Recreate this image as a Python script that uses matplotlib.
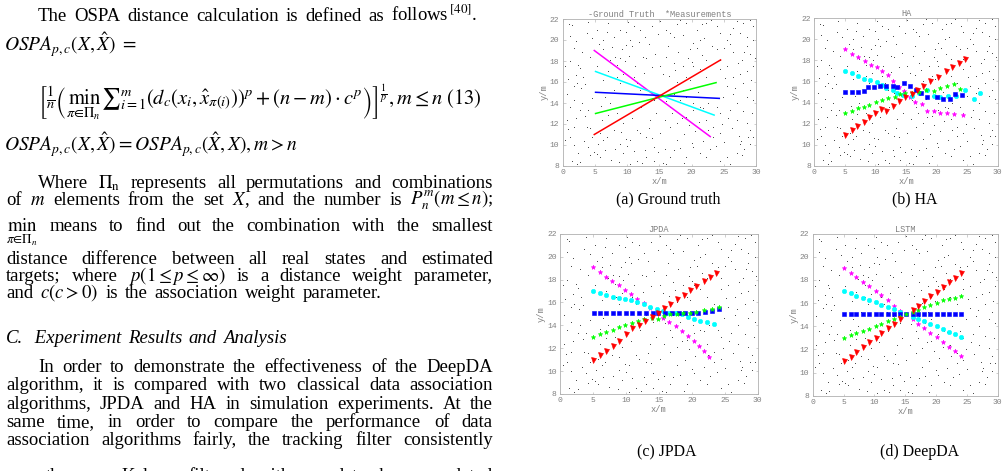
import matplotlib
matplotlib.use("Agg")
import matplotlib.pyplot as plt

plt.rcParams['mathtext.fontset'] = 'stix'

W, H = 1008, 471
fig = plt.figure(figsize=(W / 100, H / 100), dpi=100)
renderer = fig.canvas.get_renderer()

# ---------------- data ----------------
clutter_x = [1.0, 1.4, 1.1, 1.7, 0.4, 1.1, 2.4, 2.7, 2.2, 2.9, 1.7, 2.7, 3.5, 3.7, 4.2, 4.0, 1.1, 1.7, 2.4, 1.4,
             2.2, 2.7, 4.2, 5.3, 5.8, 5.5, 4.0, 4.8, 5.8, 6.1, 6.3, 6.6, 7.3, 8.1, 8.4, 8.9, 9.2, 9.9, 10.5, 9.9,
             10.7, 11.2, 12.5, 13.0, 12.8, 13.8, 15.1, 16.1, 16.7, 17.2, 17.7, 18.2, 19.2, 19.8, 20.3, 20.8, 21.6, 22.3, 23.1, 23.9,
             25.5, 26.5, 27.5, 28.6, 29.6, 29.1, 27.5, 28.6, 28.0, 29.1, 29.6, 26.5, 27.0, 25.5, 24.9, 24.4, 26.0, 27.0, 28.6, 29.1,
             29.6, 29.1, 27.5, 27.0, 25.5, 26.0, 24.4, 22.3, 21.3, 19.2, 20.3, 18.2, 17.7, 16.7, 16.1, 14.1, 13.0, 11.5, 10.5, 9.4,
             8.9, 10.5, 12.0, 13.0, 14.1, 15.1, 16.7, 17.7, 19.2, 20.3, 21.3, 22.3, 23.4, 24.4, 23.4, 18.7, 19.2, 18.2, 17.2, 16.7,
             14.1, 13.0, 12.0, 11.5, 11.0, 9.4, 8.9, 7.9, 7.3, 8.4, 9.4, 7.9, 6.8, 6.3, 15.1, 15.6, 16.1, 17.2, 18.7, 19.2,
             20.3, 21.3, 22.3, 23.4, 24.4, 25.5, 26.5, 24.4, 22.3, 21.3, 24.4, 26.5, 28.0, 29.6, 3.7, 5.3, 6.3, 6.8, 7.9, 8.9,
             11.0, 12.0, 6.3, 4.2, 5.3, 3.2, 1.7, 0.6, 1.1, 0.6, 1.7, 0.4, 29.6, 29.3, 27.8, 28.6, 27.3, 27.6, 28.2, 27.9,
             28.8, 16.0, 14.5, 13.6, 12.2, 17.8, 19.8, 21.0, 22.6, 20.5, 18.9, 15.8, 12.8, 10.0, 8.1, 7.0,
             2.0, 3.0, 3.9, 4.6, 5.6, 7.0, 7.6, 9.6, 10.2, 11.8, 13.4, 14.3, 14.8, 16.4, 17.9, 18.6, 19.5, 20.9, 22.0, 23.0,
             24.0, 25.0, 26.0, 27.0, 28.2, 29.0, 0.8, 2.0, 3.5, 4.5, 3.0, 2.0, 0.9, 3.3, 4.6, 6.5, 7.5, 8.8, 9.8, 11.0,
             12.3, 13.8, 14.8, 15.5, 17.2, 18.8, 20.0, 21.8, 22.8, 23.8, 25.0, 26.2, 25.6, 24.8, 28.0, 29.4, 26.8, 28.6, 25.2, 27.2,
             29.8, 26.0, 21.6, 20.0, 17.5, 16.5, 13.8, 12.6, 10.3, 8.5, 7.0, 6.0, 9.0, 10.8, 11.6, 13.4, 15.8, 17.0, 18.5, 19.6,
             21.2, 22.5, 23.9, 21.8, 20.2]
clutter_y = [21.5, 21.4, 20.4, 19.2, 17.5, 18.0, 17.6, 17.3, 15.9, 15.4, 14.3, 13.3, 12.8, 11.7, 11.6, 13.3, 10.8, 10.0, 9.2, 8.5,
             8.2, 8.4, 9.0, 9.1, 8.9, 10.1, 9.8, 9.3, 11.1, 12.4, 16.2, 14.6, 18.1, 18.4, 17.6, 18.3, 19.1, 20.8, 20.0, 19.5,
             19.4, 17.5, 18.4, 18.3, 20.3, 21.3, 21.8, 21.0, 20.7, 20.3, 21.5, 21.9, 21.6, 19.1, 19.7, 19.2, 21.5, 21.6, 19.4, 19.1,
             20.0, 18.9, 20.7, 20.3, 20.0, 18.7, 16.8, 17.0, 15.9, 15.2, 14.3, 14.9, 14.0, 15.6, 14.6, 13.0, 13.3, 12.4, 12.1, 11.4,
             10.8, 10.1, 10.1, 9.2, 8.9, 8.2, 8.5, 8.9, 9.2, 8.9, 9.8, 9.7, 10.5, 8.9, 8.2, 8.5, 8.9, 8.5, 8.2, 9.2,
             10.1, 10.5, 11.1, 10.8, 9.8, 11.1, 11.7, 12.1, 12.7, 13.3, 13.6, 12.4, 11.7, 11.1, 10.8, 15.2, 14.6, 14.3, 14.9, 13.6,
             14.3, 14.9, 15.2, 15.9, 16.5, 16.8, 15.9, 15.2, 14.0, 13.0, 12.1, 11.4, 10.8, 10.5, 17.5, 16.8, 18.4, 17.8, 17.5, 16.5,
             17.5, 17.2, 16.5, 15.9, 17.2, 17.5, 16.5, 18.1, 18.1, 20.0, 20.7, 21.1, 21.6, 21.3, 20.7, 21.0, 20.0, 20.8, 20.3, 21.0,
             21.3, 21.0, 19.1, 18.4, 17.5, 16.5, 15.6, 14.9, 13.6, 12.4, 11.7, 10.5, 17.5, 16.2, 18.1, 19.4, 10.9, 10.4, 9.6, 9.0,
             10.8, 14.2, 13.0, 12.4, 13.6, 16.0, 16.2, 15.0, 14.0, 11.3, 11.0, 9.6, 9.5, 9.9, 9.6, 12.9,
             19.9, 18.9, 21.7, 20.2, 19.6, 21.6, 19.3, 18.0, 21.7, 19.8, 19.6, 18.7, 20.6, 19.4, 18.9, 20.5, 18.3, 21.0, 20.2, 21.9,
             21.3, 19.2, 20.6, 21.8, 18.9, 21.9, 16.3, 16.7, 15.8, 14.5, 14.0, 12.6, 11.5, 10.4, 10.8, 9.5, 8.6, 8.4, 10.6, 9.4,
             8.3, 10.7, 9.3, 8.3, 9.5, 8.3, 10.2, 10.4, 9.6, 9.9, 10.3, 11.6, 12.6, 12.0, 13.2, 13.0, 15.4, 14.6, 16.4, 17.8,
             18.3, 19.6, 18.6, 17.9, 17.1, 16.6, 17.4, 16.9, 18.5, 16.5, 17.0, 13.7, 11.2, 12.6, 11.4, 11.6, 12.4, 13.0, 12.6, 11.9,
             12.2, 11.4, 13.6, 13.5, 14.0]

# (a) ground truth straight tracks: start / end points
gt_x = {'m': [4.9, 22.9], 'c': [5.1, 23.5], 'b': [5.1, 24.3], 'g': [5.1, 23.8], 'r': [4.9, 24.5]}
gt_y = {'m': [19.0, 10.8], 'c': [17.0, 12.85], 'b': [15.02, 14.44], 'g': [13.0, 15.94], 'r': [11.0, 18.1]}

# (b) HA estimates
ha_x = {
    'm': [5.0, 6.1, 7.2, 8.3, 9.3, 10.2, 11.1, 12.0, 12.9, 13.8, 14.6, 15.6, 16.5, 17.6, 18.4, 19.5, 20.6, 21.7, 22.9, 24.3],
    'c': [5.1, 6.1, 7.1, 8.2, 9.1, 10.2, 11.1, 11.8, 12.8, 13.6, 14.5, 15.9, 17.2, 18.5, 19.5, 20.6, 21.9, 23.1, 24.6, 26.2, 27.1],
    'b': [5.1, 6.1, 7.1, 8.1, 8.8, 9.8, 10.8, 11.8, 12.8, 13.6, 14.6, 15.7, 16.6, 17.4, 18.5, 20.0, 21.0, 22.2, 23.0, 24.2],
    'g': [5.1, 6.1, 7.1, 8.1, 9.0, 10.1, 11.1, 12.1, 13.2, 14.0, 14.8, 15.9, 17.2, 18.3, 19.5, 20.6, 21.7, 22.9, 23.8],
    'r': [5.1, 6.1, 7.0, 8.1, 9.0, 10.0, 10.9, 11.7, 12.8, 13.8, 14.9, 16.0, 16.8, 17.8, 19.0, 20.3, 21.5, 22.5, 23.6, 24.6],
}
ha_y = {
    'm': [19.05, 18.61, 18.29, 17.91, 17.56, 17.34, 16.99, 16.58, 16.0, 15.5, 15.12, 14.49, 14.05, 13.86, 13.23, 13.2, 13.04, 12.97, 12.91, 12.85],
    'c': [17.03, 16.8, 16.55, 16.27, 16.11, 15.92, 15.66, 15.35, 15.19, 14.94, 14.71, 14.6, 14.9, 15.2, 14.6, 14.5, 14.6, 14.6, 15.2, 14.3, 14.9],
    'b': [15.03, 15.03, 15.03, 15.06, 15.44, 15.44, 15.57, 15.57, 15.57, 15.44, 15.85, 15.57, 15.19, 14.87, 14.56, 14.56, 14.37, 14.33, 14.78, 14.71],
    'g': [12.97, 13.19, 13.45, 13.6, 13.73, 14.08, 14.24, 14.4, 14.56, 14.78, 14.87, 14.94, 15.03, 15.19, 15.06, 15.35, 15.57, 15.76, 15.25],
    'r': [10.95, 11.39, 11.77, 12.18, 12.59, 12.97, 13.35, 13.23, 13.67, 14.18, 14.56, 14.81, 15.19, 15.57, 16.08, 16.42, 16.96, 17.34, 17.72, 18.1],
}

# (c) JPDA estimates
jpda_x = {
    'm': [5.0, 6.0, 7.0, 7.9, 8.9, 9.9, 10.8, 11.7, 12.7, 13.7, 14.8, 15.6, 16.5, 17.6, 18.5, 19.4, 20.4, 21.1, 21.8, 22.6],
    'c': [5.0, 6.0, 7.0, 8.0, 8.9, 9.9, 10.8, 11.7, 12.7, 13.7, 14.7, 15.6, 16.5, 17.6, 18.5, 19.4, 20.3, 21.2, 22.3, 23.4],
    'b': [5.1, 6.1, 7.0, 8.0, 9.0, 10.0, 11.0, 12.0, 13.1, 14.1, 14.9, 16.0, 17.0, 18.0, 19.0, 20.0, 20.9, 22.0, 23.1, 24.1],
    'g': [5.0, 6.0, 7.0, 8.0, 9.0, 9.9, 10.9, 11.9, 12.8, 13.9, 14.8, 15.8, 16.7, 17.7, 18.7, 19.7, 20.7, 21.9, 23.0, 24.1],
    'r': [5.0, 6.0, 7.0, 8.0, 9.0, 10.0, 11.0, 12.0, 12.9, 14.0, 14.9, 15.8, 16.7, 17.7, 18.8, 19.7, 20.7, 21.8, 22.8, 23.7],
}
jpda_y = {
    'm': [19.06, 18.62, 18.25, 17.84, 17.52, 17.05, 16.73, 16.3, 15.98, 15.51, 15.1, 14.67, 14.32, 13.94, 13.5, 13.09, 12.66, 12.19, 11.73, 11.26],
    'c': [17.02, 16.85, 16.62, 16.5, 16.41, 16.3, 16.18, 16.06, 15.89, 15.63, 15.42, 15.28, 15.04, 15.04, 14.96, 14.75, 14.58, 14.4, 14.32, 14.11],
    'b': [15.04, 15.04, 15.04, 15.04, 15.04, 15.04, 15.04, 15.04, 15.04, 15.04, 15.04, 15.04, 15.04, 15.04, 15.04, 15.04, 15.1, 15.16, 15.28, 15.39],
    'g': [13.01, 13.21, 13.41, 13.62, 13.82, 14.03, 14.23, 14.37, 14.52, 14.61, 14.58, 14.81, 14.96, 14.99, 15.04, 15.1, 15.16, 15.31, 15.39, 15.63],
    'r': [10.97, 11.41, 11.76, 12.19, 12.63, 13.24, 13.79, 14.0, 14.37, 14.69, 15.1, 15.48, 15.86, 16.3, 16.62, 17.05, 17.43, 17.9, 18.19, 18.6],
}

# (d) DeepDA (LSTM) estimates
lstm_x = {
    'm': [5.1, 6.2, 7.1, 8.2, 9.1, 10.2, 11.1, 12.2, 13.2, 14.2, 16.2, 17.1, 18.1, 19.0, 20.1, 21.1, 22.1, 23.1, 24.1],
    'c': [5.1, 6.2, 7.1, 8.2, 9.1, 10.2, 11.1, 12.2, 13.2, 14.2, 16.2, 17.1, 18.1, 19.0, 20.1, 21.1, 22.1, 23.1, 24.1],
    'b': [5.1, 6.2, 7.1, 8.2, 9.1, 10.2, 11.1, 12.2, 13.2, 14.2, 15.1, 16.2, 17.1, 18.1, 19.0, 20.1, 21.1, 22.1, 23.1, 24.1],
    'g': [5.1, 6.2, 7.1, 8.2, 9.1, 10.2, 11.1, 12.2, 13.2, 14.2, 15.1, 16.2, 17.1, 18.1, 19.0, 20.1, 21.1, 22.1, 23.1, 24.1],
    'r': [5.1, 6.2, 7.1, 8.2, 9.1, 10.2, 11.1, 12.2, 13.2, 14.2, 16.2, 17.1, 18.1, 19.0, 20.1, 21.1, 22.1, 23.1, 24.1],
}
lstm_y = {
    'm': [19.0, 18.63, 18.23, 17.82, 17.48, 17.04, 16.67, 16.27, 15.78, 15.34, 14.65, 14.22, 13.88, 13.44, 13.04, 12.64, 12.23, 11.83, 11.43],
    'c': [17.04, 16.84, 16.64, 16.44, 16.24, 16.07, 15.83, 15.63, 15.46, 15.26, 14.83, 14.65, 14.42, 14.22, 14.02, 13.73, 13.53, 13.3, 13.1],
    'b': [15.03, 15.03, 15.03, 15.03, 15.03, 15.03, 15.03, 15.03, 15.03, 15.03, 15.03, 15.03, 15.03, 15.05, 15.05, 15.05, 15.08, 15.08, 15.1, 15.1],
    'g': [13.01, 13.21, 13.41, 13.62, 13.79, 13.99, 14.22, 14.42, 14.62, 14.83, 15.03, 15.23, 15.4, 15.63, 15.81, 16.04, 16.24, 16.4, 16.44, 16.6],
    'r': [11.0, 11.37, 11.77, 12.2, 12.6, 13.01, 13.41, 13.82, 14.22, 14.62, 15.4, 15.78, 16.18, 16.58, 16.99, 17.39, 17.79, 18.2, 18.6],
}

colors = {'m': '#ff00ff', 'c': '#00ffff', 'b': '#0000ff', 'g': '#00ff00', 'r': '#ff0000'}
markers = {'m': ('*', 3.4), 'c': ('o', 3.2), 'b': ('s', 3.0), 'g': ('*', 3.4), 'r': ('v', 3.6)}

titles = ['-Ground Truth  *Measurements', 'HA', 'JPDA', 'LSTM']
captions = ['(a) Ground truth', '(b) HA', '(c) JPDA', '(d) DeepDA']

# ---------------- helpers ----------------
def fx(x):
    return x / W

def fy(y):
    return 1 - y / H

SERIF = 'Liberation Serif'
GRAY = '#808080'
FS = 13.5


def line(words, y, x0, x1=None, size=FS, style='normal', spread=1.0):
    ts = [fig.text(0, 0, w, fontsize=size, family=SERIF, style=style, va='baseline', ha='left')
          for w in words]
    widths = [t.get_window_extent(renderer).width for t in ts]
    if x1 is not None and len(ts) > 1:
        gap = (x1 - x0 - sum(widths)) / (len(ts) - 1)
    else:
        gap = spread * 0.25 * size * 100 / 72
    x = x0
    for t, w in zip(ts, widths):
        t.set_position((fx(x), fy(y)))
        x += w + gap


def make_ax(rect, title):
    l, r, t, b = rect
    ax = fig.add_axes([fx(l), fy(b), (r - l) / W, (b - t) / H])
    ax.set_xlim(0, 30)
    ax.set_ylim(8, 22)
    ax.set_xticks(range(0, 31, 5))
    ax.set_yticks(range(8, 23, 2))
    ax.tick_params(direction='in', length=1.8, width=0.4, colors='#aaaaaa',
                   labelcolor=GRAY, labelsize=5.8, pad=2.5, top=True, right=True)
    for lab in ax.get_xticklabels() + ax.get_yticklabels():
        lab.set_family('Liberation Mono')
    for sp in ax.spines.values():
        sp.set_color('#b0b0b0')
        sp.set_linewidth(0.6)
    ax.set_xlabel('x/m', fontsize=6.3, color=GRAY, family='Liberation Mono', labelpad=0.5)
    ax.set_ylabel('y/m', fontsize=6.3, color=GRAY, family='Liberation Mono', labelpad=1)
    ax.set_title(title, fontsize=6.2, color=GRAY, family='Liberation Mono', pad=1.5)
    ax.plot(clutter_x, clutter_y, ls='none', marker='.', ms=1.4, mew=0, color='#404040')
    return ax


# ---------------- axes ----------------
rects = [(562.7, 756.0, 19.0, 166.0), (814.3, 997.7, 18.3, 165.7),
         (560.0, 757.7, 233.7, 394.0), (812.7, 997.7, 233.7, 395.7)]
axes = [make_ax(r, t) for r, t in zip(rects, titles)]

for k in ['m', 'c', 'b', 'g', 'r']:
    axes[0].plot(gt_x[k], gt_y[k], color=colors[k], lw=1.1)

for ax, dx, dy in [(axes[1], ha_x, ha_y), (axes[2], jpda_x, jpda_y), (axes[3], lstm_x, lstm_y)]:
    for k in ['m', 'c', 'b', 'g', 'r']:
        mk, ms = markers[k]
        ax.plot(dx[k], dy[k], ls='none', marker=mk, ms=ms, color=colors[k], mew=0.4)

cap_pos = [(668, 203), (915, 203), (667, 456), (920, 456)]
for (cx, cy), c in zip(cap_pos, captions):
    fig.text(fx(cx), fy(cy), c, fontsize=11.4, family=SERIF, ha='center', va='baseline')

# ---------------- left text column ----------------
L, R = 6, 493
line(['The', 'OSPA', 'distance', 'calculation', 'is', 'defined', 'as', 'follows$^{\\,[40]}$.'], 21, 38, spread=1.5)
line([r'$OSPA_{p,c}(X,\hat{X})\;=$'], 51, 4, size=14)
line([r'$\left[\frac{1}{n}\left(\min_{\pi\in\Pi_n}{\sum}_{i=1}^{m}\left(d_c(x_i,\hat{x}_{\pi(i)})\right)^p+(n-m)\cdot c^p\right)\right]^{\frac{1}{p}}, m\leq n\ (13)$'], 104, 38, size=14.8)
line([r'$OSPA_{p,c}(X,\hat{X})=OSPA_{p,c}(\hat{X},X), m>n$'], 151, 4, size=14)

line(['Where', r'$\Pi_\mathrm{n}$', 'represents', 'all', 'permutations', 'and', 'combinations'], 188, 38, R)
line(['of', '$m$', 'elements', 'from', 'the', 'set', '$X$,', 'and', 'the', 'number', 'is', r'$P_n^m(m\leq n)$;'], 205, L, R)
line([r'$\min_{\pi\in\Pi_n}$', 'means', 'to', 'find', 'out', 'the', 'combination', 'with', 'the', 'smallest'], 231, L, R)
line(['distance', 'difference', 'between', 'all', 'real', 'states', 'and', 'estimated'], 264, L, R)
line(['targets;', 'where', r'$p(1\leq p\leq\infty)$', 'is', 'a', 'distance', 'weight', 'parameter,'], 281, L, R)
line(['and', '$c(c>0)$', 'is', 'the', 'association', 'weight', 'parameter.'], 298, L, spread=1.5)

line(['C.', ' Experiment', 'Results', 'and', 'Analysis'], 343, L, style='italic', spread=1.4)

line(['In', 'order', 'to', 'demonstrate', 'the', 'effectiveness', 'of', 'the', 'DeepDA'], 372, 38, R)
line(['algorithm,', 'it', 'is', 'compared', 'with', 'two', 'classical', 'data', 'association'], 390, L, R)
line(['algorithms,', 'JPDA', 'and', 'HA', 'in', 'simulation', 'experiments.', 'At', 'the'], 409, L, R)
line(['same', 'time,', 'in', 'order', 'to', 'compare', 'the', 'performance', 'of', 'data'], 427, L, R)
line(['association', 'algorithms', 'fairly,', 'the', 'tracking', 'filter', 'consistently'], 445, L, R)
line(['uses', 'the', 'same', 'Kalman', 'filter', 'algorithm,', 'and', 'tracks', 'are', 'updated'], 481, L, R)

fig.savefig('out.png', dpi=100)
